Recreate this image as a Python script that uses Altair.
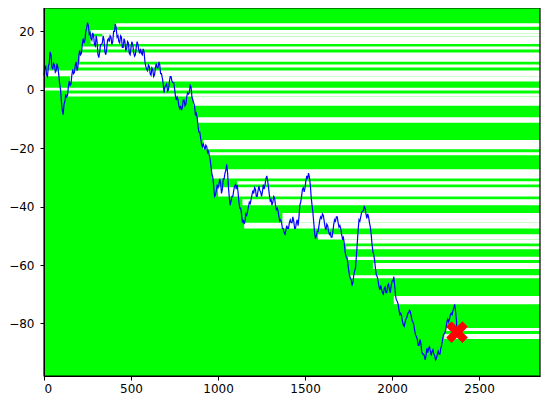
import altair as alt
import pandas as pd

# random-walk values, one every 10 steps (last point at step 2373)
step = list(range(0, 2371, 10)) + [2373]
walk = [5, 8, 4.5, 9, 12, 7, 8.5, 6.5, 7.5, 2, -4, -8.5, -4, -2.5, 1, 1.5, 5, 5.5, 8.5, 6.5,
        11.5, 12, 15.5, 16, 20, 23, 19, 17.5, 19.5, 15.5, 18.5, 12, 13, 15.5, 18.5, 13, 14, 17.5, 18.5, 15.5,
        20, 22.5, 18, 16.5, 18.5, 14.5, 17.5, 13.5, 16.5, 12.5, 14.5, 15.5, 11.5, 14.5, 15.5, 12.5, 12.5, 14, 9.5, 7,
        8.5, 5.5, 7.5, 4.5, 7.5, 7.5, 9.5, 5.5, 4, -1, 1.5, -0.5, 2.5, 4.5, 2.5, 0.5, -3.5, -3.5, -6.5, -7,
        -3.5, -5.5, -2.5, -1.5, 1.5, -2.5, -4.5, -8.5, -9.5, -14.5, -16.5, -19.5, -19.5, -19, -21.5, -22.5, -26.5, -30, -36.5, -34.5,
        -33.5, -30.5, -35.5, -30.5, -28.5, -25.5, -33.5, -39.5, -36.5, -34.5, -32.5, -32.5, -38.5, -40.5, -45.5, -46, -42.5, -41.5, -38.5, -37.5,
        -34.5, -33.5, -36.5, -34.5, -34.5, -36.5, -32.5, -32.5, -29.5, -33.5, -38, -39.5, -36.5, -39.5, -40.5, -43.5, -44.5, -47.5, -49, -48,
        -47.5, -45.5, -45.5, -43.5, -47.5, -45.5, -46.5, -39.5, -36.5, -33.5, -33.5, -29.5, -28.5, -32.5, -39.5, -45.5, -51, -48.5, -46.5, -43.5,
        -42.5, -45, -48, -46.5, -49.5, -50.5, -48.5, -44.5, -43.5, -45.5, -46.5, -49.5, -50.5, -55.5, -57.5, -61.5, -64.5, -67, -63.5, -61,
        -52.5, -44.5, -43.5, -41.5, -40, -42.5, -42.5, -45.5, -49.5, -55.5, -58.5, -63.5, -65.5, -68.5, -68.5, -70, -67.5, -69.5, -66.5, -69.5,
        -65.5, -64, -70.5, -72.5, -75.5, -76.5, -79.5, -81, -78.5, -76.5, -75.5, -77.5, -79.5, -82.5, -84.5, -87.5, -85.5, -89.5, -90.5, -92.5,
        -88.5, -88.5, -89.5, -89.5, -90.5, -92.5, -90.5, -90.5, -88.5, -85.5, -83.5, -81.5, -78.5, -78.5, -76.5, -75.5, -73.5, -79, -83]

# in-between values (steps 5, 15, ..., 2365) giving the walk its jitter
mid_step = list(range(5, 2366, 10))
mid_walk = [7.5, 5, 8, 13, 8, 9, 6, 9, 5, 0,
            -7, -5, -1.5, -2, 3, 2, 7, 6, 9.5, 8,
            13.5, 12.5, 17.5, 17, 21, 22, 19.5, 17, 18.5, 15,
            16.5, 11, 15.5, 16, 17, 12, 17, 16.5, 18, 16.5,
            20, 21, 18.5, 16, 18, 14.5, 16.5, 14, 16, 12,
            16.5, 13, 12, 16.5, 13.5, 14, 12, 13, 8, 6.5,
            8, 5, 7, 5, 9, 7.5, 8.5, 5.5, 2, 1,
            2, 0, 4.5, 3, 2.5, -2, -2.5, -5.5, -5.5, -6,
            -3.5, -5, -1, -1, 1, -3.5, -5.5, -8, -12.5, -14.5,
            -18.5, -18.5, -20.5, -19.5, -21, -24, -29, -33, -36, -32.5,
            -32.5, -32, -34, -30.5, -27.5, -28.5, -37, -38, -36.5, -33,
            -34, -35, -40.5, -42.5, -44.5, -45, -43, -40, -39, -36,
            -35.5, -34, -36.5, -33, -35, -35, -34, -30.5, -31, -36,
            -37.5, -38.5, -37, -41, -41.5, -45, -45.5, -47.5, -49.5, -46.5,
            -47.5, -44.5, -45.5, -45, -47.5, -44.5, -43.5, -38.5, -34, -35,
            -31, -30.5, -30, -36.5, -42, -49, -50, -48.5, -44.5, -44,
            -43, -47, -46, -48.5, -49, -50.5, -46, -45, -43.5, -47,
            -47.5, -51, -52.5, -57, -59, -63.5, -65, -66, -62, -57,
            -48, -45, -42, -41.5, -40.5, -44, -43.5, -47, -53, -56.5,
            -61.5, -64, -67.5, -67, -69.5, -68, -69.5, -67, -68.5, -67,
            -65.5, -67, -72, -73.5, -77, -77.5, -80.5, -79.5, -78, -76.5,
            -76, -79, -80.5, -84, -85.5, -87.5, -86.5, -90.5, -91, -91,
            -90, -88, -91, -89, -91, -92, -89.5, -90.5, -87.5, -84,
            -83, -79.5, -79.5, -77, -77, -74.5, -76]

# white horizontal stripes: start step, lower and upper level
stripe_start = [413, 268, 335, 268, 215, 205, 185, 10, 150, 0, 130, 857, 885, 915, 950, 965, 1110, 1000,
                1140, 1370, 1150, 1575, 1720, 1737, 1747, 1890, 1760, 2010, 2311, 2300]
stripe_low = [21.6, 19.2, 18.2, 15.7, 13.8, 9.6, 7.6, 4.6, 2.85, -0.25, -2.3, -5.5, -11.3, -20.4, -22.45, -30.4, -32.4, -36.5,
              -39.5, -45.5, -47.5, -51.3, -52.6, -54.6, -58.3, -61.4, -64.5, -73.4, -82.6, -85.3]
stripe_high = [22.8, 20.5, 19.2, 18.2, 14.8, 12.8, 8.65, 6.6, 4.6, 0.7, -1.25, -2.3, -9.4, -17.2, -21.4, -27.2, -31.3, -33.4,
               -37.5, -42.2, -45.5, -49.5, -51.3, -53.6, -57.2, -59.3, -63.5, -70.6, -81.6, -83.6]

end_step = [2373]
end_value = [-83]

x_ticks = [0, 500, 1000, 1500, 2000, 2500]
y_ticks = [-80, -60, -40, -20, 0, 20]

W, H = 496, 368

walk_df = pd.DataFrame({"step": step + mid_step, "value": walk + mid_walk}).sort_values("step")
stripe_df = pd.DataFrame({"start": stripe_start, "lo": stripe_low, "hi": stripe_high})
end_df = pd.DataFrame({"step": end_step, "value": end_value})

xs = alt.Scale(domain=[0, 2850], nice=False, zero=False)
ys = alt.Scale(domain=[-98, 28], nice=False, zero=False)

x_axis = alt.Axis(values=x_ticks, title=None, labelPadding=3.5, format="d", zindex=1)
y_axis = alt.Axis(values=y_ticks, title=None, labelPadding=6, format="d", zindex=1)

stripes = alt.Chart(stripe_df).mark_rect(color="#ffffff", strokeWidth=0).encode(
    x=alt.X("start:Q", scale=xs, axis=x_axis),
    x2=alt.value(W),
    y=alt.Y("lo:Q", scale=ys, axis=y_axis),
    y2="hi:Q",
)

line = alt.Chart(walk_df).mark_line(color="#0000ff", strokeWidth=1.2).encode(
    x=alt.X("step:Q", scale=xs),
    y=alt.Y("value:Q", scale=ys),
)

x_shape = "M-0.5,-1L0,-0.5L0.5,-1L1,-0.5L0.5,0L1,0.5L0.5,1L0,0.5L-0.5,1L-1,0.5L-0.5,0L-1,-0.5Z"
marker = alt.Chart(end_df).mark_point(shape=x_shape, size=470, filled=True, color="#ff0000", opacity=1).encode(
    x=alt.X("step:Q", scale=xs),
    y=alt.Y("value:Q", scale=ys),
)

frame = alt.Chart(end_df).mark_rect(fillOpacity=0, stroke="#000000", strokeWidth=1.2).encode(
    x=alt.value(0), x2=alt.value(W), y=alt.value(0), y2=alt.value(H)
)

chart = alt.layer(stripes, line, marker, frame).properties(
    width=W, height=H,
    autosize=alt.AutoSizeParams(type="none"),
    padding={"left": 36, "top": 0, "right": 2, "bottom": 20},
).configure_view(
    fill="#00ff00", stroke=None
).configure_axis(
    grid=False, domainColor="#000000", domainWidth=1, tickColor="#000000", tickSize=4, tickWidth=1,
    labelFont="DejaVu Sans", labelFontSize=12, labelColor="#000000"
)

chart.save("out.html", embed_options={"renderer": "svg", "actions": False})
